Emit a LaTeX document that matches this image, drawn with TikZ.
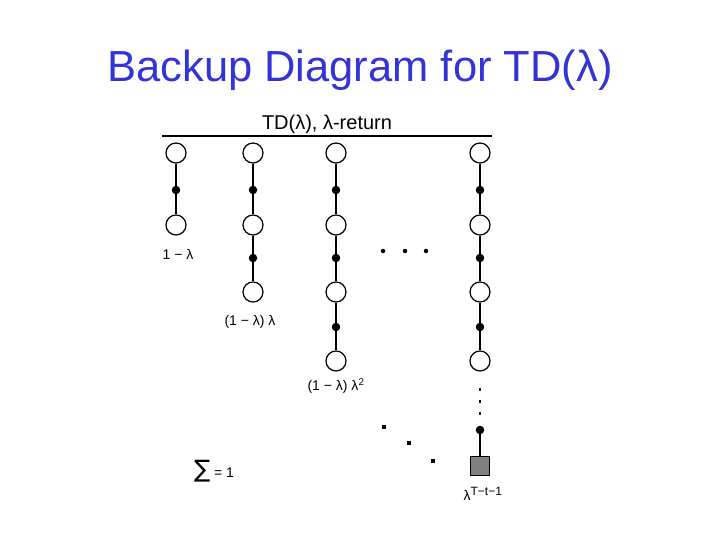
\documentclass[tikz,border=0pt]{standalone}
\usepackage{fontspec}
\setmainfont{Liberation Sans}
\newfontfamily\symbolfont{DejaVu Sans}
\definecolor{titleblue}{RGB}{51,51,214}
\tikzset{
  state/.style={draw,circle,line width=1.2pt,minimum size=20pt,inner sep=0pt,fill=white},
  action/.style={fill,circle,minimum size=8.5pt,inner sep=0pt},
  terminal/.style={draw,rectangle,line width=1.4pt,minimum size=19pt,inner sep=0pt,fill=black!50},
  weight/.style={font=\fontsize{14}{16}\selectfont},
  bigdot/.style={fill,circle,minimum size=4.5pt,inner sep=0pt},
  smalldot/.style={fill,rectangle,minimum size=3.5pt,inner sep=0pt}
}
\begin{document}
\begin{tikzpicture}[x=1pt,y=-1pt]
      \useasboundingbox (0,0) rectangle (720,540);
      \node[text=titleblue,font=\fontsize{43.5}{50}\selectfont,anchor=base] (title) at (360,82) {Backup Diagram for TD(λ)};
      \node[font=\fontsize{20}{24}\selectfont,anchor=base] (head) at (327,130) {TD(λ), λ-return};
      \draw[line width=1.3pt] (162,136) coordinate (hl) -- (492,136) coordinate (hr);
      % first column
      \draw
        (176,153) node[state] (s11){}
        (176,190) node[action] (a11){}
        (176,225) node[state] (s12){};
      % second column
      \draw
        (253,153) node[state] (s21){}
        (253,190) node[action] (a21){}
        (253,225) node[state] (s22){}
        (253,258) node[action] (a22){}
        (253,292) node[state] (s23){};
      % third column
      \draw
        (336,153) node[state] (s31){}
        (336,190) node[action] (a31){}
        (336,225) node[state] (s32){}
        (336,258) node[action] (a32){}
        (336,292) node[state] (s33){}
        (336,327) node[action] (a33){}
        (336,361) node[state] (s34){};
      % last column
      \draw
        (480,153) node[state] (s41){}
        (480,190) node[action] (a41){}
        (480,225) node[state] (s42){}
        (480,258) node[action] (a42){}
        (480,292) node[state] (s43){}
        (480,327) node[action] (a43){}
        (480,361) node[state] (s44){}
        (480,430) node[action] (a44){}
        (480,466) node[terminal] (term){};
      \begin{scope}[line width=1.3pt]
        \draw (s11) to (a11);
        \draw (a11) to (s12);
        \draw (s21) to (a21);
        \draw (a21) to (s22);
        \draw (s22) to (a22);
        \draw (a22) to (s23);
        \draw (s31) to (a31);
        \draw (a31) to (s32);
        \draw (s32) to (a32);
        \draw (a32) to (s33);
        \draw (s33) to (a33);
        \draw (a33) to (s34);
        \draw (s41) to (a41);
        \draw (a41) to (s42);
        \draw (s42) to (a42);
        \draw (a42) to (s43);
        \draw (s43) to (a43);
        \draw (a43) to (s44);
        \draw (a44) to (term);
        \draw[dash pattern=on 3pt off 9pt,shorten <=16pt,shorten >=10pt] (s44) to (a44);
      \end{scope}
      % ellipses
      \node[bigdot] (h1) at (383,251) {};
      \node[bigdot] (h2) at (405,251) {};
      \node[bigdot] (h3) at (426,251) {};
      \node[smalldot] (d1) at (384,427) {};
      \node[smalldot] (d2) at (409,443) {};
      \node[smalldot] (d3) at (433,461) {};
      % weights
      \node[weight] (w1) at (178,254) {1 − λ};
      \node[weight] (w2) at (250,322) {(1 − λ) λ};
      \node[weight] (w3) at (336,386) {(1 − λ) λ\textsuperscript{2}};
      \node[weight] (w4) at (483,494) {λ\textsuperscript{\fontsize{12}{14}\selectfont T−t−1}};
      \node[weight] (sum) at (214,471) {{\symbolfont\fontsize{24}{26}\selectfont ∑} = 1};
\end{tikzpicture}
\end{document}
